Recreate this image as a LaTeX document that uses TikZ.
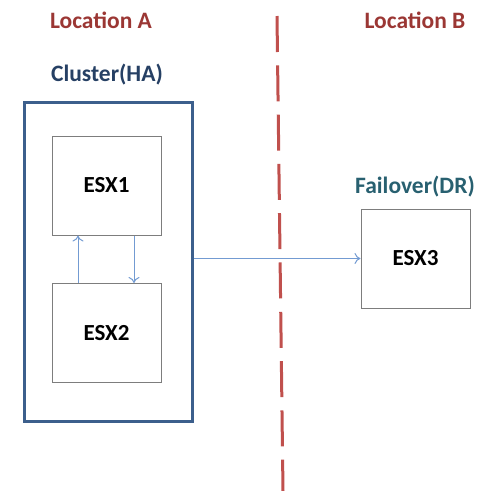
\documentclass[tikz,border=0pt]{standalone}
\usepackage{fontspec}
\setmainfont{Carlito}
\usetikzlibrary{arrows.meta}
\definecolor{locred}{RGB}{155,55,52}
\definecolor{dashred}{RGB}{192,80,77}
\definecolor{clusterblue}{RGB}{38,64,100}
\definecolor{boxblue}{RGB}{60,95,140}
\definecolor{arrowblue}{RGB}{115,155,210}
\definecolor{failteal}{RGB}{40,96,112}
\definecolor{boxgray}{RGB}{125,125,125}
\begin{document}
\begin{tikzpicture}[x=1pt,y=-1pt,
  esxbox/.style={draw=boxgray,line width=1pt,minimum width=109pt,minimum height=99pt,inner sep=0pt,font=\fontsize{23}{25}\selectfont\bfseries,text=black},
  loclabel/.style={font=\fontsize{23.5}{26}\selectfont\bfseries,text=locred},
  grplabel/.style={font=\fontsize{23.5}{26}\selectfont\bfseries},
  conn/.style={draw=arrowblue,line width=1pt,-{To[length=6pt,width=11pt]}}]
\useasboundingbox (0,0) rectangle (479,491);
\node[loclabel] (locA) at (101,20) {Location A};
\node[loclabel] (locB) at (415,20) {Location B};
\coordinate (dtop) at (277,16);
\coordinate (dbot) at (283,491);
\draw[dashred,line width=3pt,dash pattern=on 36pt off 13.3pt] (dtop) -- (dbot);
\node[grplabel,text=clusterblue] (clab) at (107,75) {Cluster(HA)};
\node[draw=boxblue,line width=3pt,minimum width=168pt,minimum height=319pt,inner sep=0pt] (cluster) at (108,261.5) {};
\node[esxbox] (esx1) at (106.5,185.5) {ESX1};
\node[esxbox] (esx2) at (106.5,333) {ESX2};
\node[grplabel,text=failteal] (flab) at (415,187) {Failover(DR)};
\node[esxbox] (esx3) at (415.5,258.5) {ESX3};
\draw[conn] (esx2.north -| 78,0) -- (esx1.south -| 78,0);
\draw[conn] (esx1.south -| 134,0) -- (esx2.north -| 134,0);
\draw[conn] (cluster.east |- esx3.west) -- (esx3.west);
\end{tikzpicture}
\end{document}
